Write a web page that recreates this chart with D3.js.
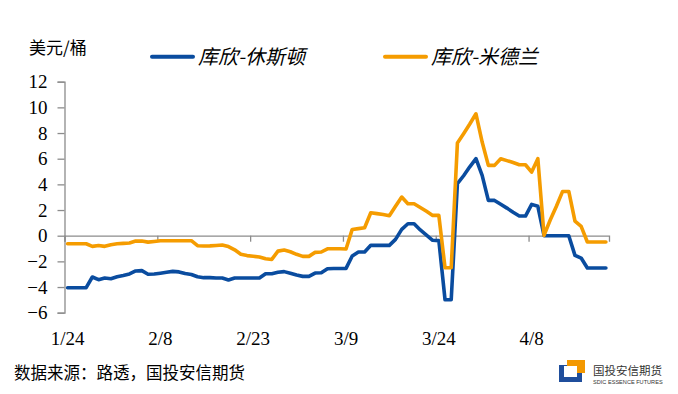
<!DOCTYPE html>
<html>
<head>
<meta charset="utf-8">
<script src="https://cdn.jsdelivr.net/npm/d3@7"></script>
<style>
  html, body { margin: 0; padding: 0; background: #fff; }
  #svg-wrapper { width: 678px; height: 394px; }
  .num { font-family: "Liberation Serif", "Times New Roman", serif; font-size: 19px; }
</style>
</head>
<body>
<div id="svg-wrapper"></div>
<script>
// daily values (weekends carried), 2020-01-24 .. 2020-04-20
const startDate = new Date(2020, 0, 24);
const seriesNames = ["库欣-休斯顿", "库欣-米德兰"];
const seriesColors = ["#0a4c9f", "#f59c00"];

const houston = [
  -4.05, -4.05, -4.05, -4.05, -3.22, -3.43, -3.3, -3.35, -3.2, -3.1,
  -2.98, -2.75, -2.72, -3.0, -2.98, -2.92, -2.85, -2.78, -2.82, -2.95,
  -3.02, -3.2, -3.27, -3.27, -3.3, -3.3, -3.45, -3.3, -3.3, -3.3,
  -3.3, -3.3, -2.96, -2.96, -2.85, -2.8, -2.93, -3.07, -3.17, -3.17,
  -2.91, -2.89, -2.57, -2.55, -2.55, -2.55, -1.58, -1.27, -1.27, -0.75,
  -0.75, -0.75, -0.75, -0.29, 0.49, 0.93, 0.93, 0.45, 0.05, -0.36,
  -0.38, -4.99, -4.99, 4.05, 4.67, 5.37, 6.0, 4.7, 2.75, 2.75,
  2.45, 2.15, 1.83, 1.53, 1.53, 2.44, 2.29, 0.0, 0.0, 0.0,
  0.0, 0.0, -1.53, -1.74, -2.52, -2.52, -2.52, -2.52,
];

const midland = [
  -0.63, -0.63, -0.63, -0.63, -0.83, -0.76, -0.83, -0.7, -0.63, -0.6,
  -0.57, -0.42, -0.42, -0.5, -0.45, -0.39, -0.39, -0.39, -0.39, -0.39,
  -0.39, -0.78, -0.8, -0.79, -0.76, -0.72, -0.85, -1.1, -1.45, -1.55,
  -1.6, -1.66, -1.8, -1.85, -1.2, -1.12, -1.25, -1.45, -1.61, -1.61,
  -1.3, -1.27, -1.02, -1.02, -1.02, -1.04, 0.49, 0.55, 0.62, 1.79,
  1.72, 1.65, 1.56, 2.3, 3.01, 2.49, 2.49, 2.2, 1.9, 1.58,
  1.58, -2.5, -2.5, 7.22, 7.95, 8.7, 9.5, 7.3, 5.48, 5.48,
  6.0, 5.85, 5.7, 5.53, 5.53, 4.96, 6.0, 0.02, 1.22, 2.3,
  3.45, 3.45, 1.14, 0.73, -0.49, -0.49, -0.49, -0.49,
];

const yTicks = [-6, -4, -2, 0, 2, 4, 6, 8, 10, 12];
const xTickLabels = ["1/24", "2/8", "2/23", "3/9", "3/24", "4/8"];

const dayMs = 24 * 3600 * 1000;
const dayOf = (i) => new Date(startDate.getTime() + i * dayMs);
const midDay = (d) => new Date(d.getTime() + dayMs / 2);

//     build data rows
const data = houston.map((v, i) => ({ date: dayOf(i), houston: v, midland: midland[i] }));

//     add svg to wrapper
const svgWidth = 678;
const svgHeight = 394;
const svg = d3.select("#svg-wrapper").append("svg")
  .attr("id", "chart")
  .attr("width", svgWidth)
  .attr("height", svgHeight)
  .attr("font-family", "'Noto Sans CJK SC', sans-serif");

//     scales
const xScale = d3.scaleTime()
  .domain([startDate, dayOf(88)])
  .range([64.5, 609]);
const yScale = d3.scaleLinear()
  .domain([-6, 12])
  .range([312.7, 81.7]);

const axisColor = "#8c8c8c";

//     y axis
const yAxis = d3.axisLeft(yScale).tickValues(yTicks).tickSize(7).tickPadding(10);
const gy = svg.append("g")
  .attr("transform", "translate(64.5,0)")
  .call(yAxis)
  .attr("font-family", null)
  .attr("font-size", null);
gy.select(".domain").attr("stroke", axisColor).attr("stroke-width", 1.3);
gy.selectAll(".tick line").attr("stroke", axisColor).attr("stroke-width", 1.3);
gy.selectAll(".tick text").attr("class", "num").attr("fill", "#000");

//     x axis at zero line, labels at the bottom
const tickDates = xTickLabels.map((d, i) => dayOf(i * 15));
const xAxis = d3.axisBottom(xScale).tickValues(tickDates).tickSize(6).tickFormat("");
const gx = svg.append("g").attr("transform", `translate(0,${yScale(0)})`).call(xAxis);
gx.select(".domain").attr("stroke", axisColor).attr("stroke-width", 1.3);
gx.selectAll(".tick line").attr("stroke", axisColor).attr("stroke-width", 1.3);

svg.append("g")
  .selectAll("text")
  .data(xTickLabels)
  .enter()
  .append("text")
  .attr("class", "num")
  .attr("x", (d, i) => xScale(midDay(tickDates[i])))
  .attr("y", 344.5)
  .attr("text-anchor", "middle")
  .text((d) => d);

//     lines
const keys = ["houston", "midland"];
keys.forEach((k, i) => {
  const line = d3.line()
    .x((d) => xScale(midDay(d.date)))
    .y((d) => yScale(d[k]));
  svg.append("path")
    .datum(data)
    .attr("fill", "none")
    .attr("stroke", seriesColors[i])
    .attr("stroke-width", 3.6)
    .attr("stroke-linejoin", "round")
    .attr("stroke-linecap", "round")
    .attr("d", line);
});

//     unit label
svg.append("text")
  .attr("x", 29)
  .attr("y", 54)
  .style("font-size", "17px")
  .text("美元/桶");

//     legend
const legendX = [152, 385];
seriesNames.forEach((name, i) => {
  svg.append("line")
    .attr("x1", legendX[i])
    .attr("x2", legendX[i] + 41)
    .attr("y1", 56.7)
    .attr("y2", 56.7)
    .attr("stroke", seriesColors[i])
    .attr("stroke-width", 4)
    .attr("stroke-linecap", "round");
  svg.append("text")
    .attr("x", legendX[i] + 46)
    .attr("y", 63.5)
    .style("font-size", "20px")
    .style("font-style", "italic")
    .text(name);
});

//     source
svg.append("text")
  .attr("x", 14)
  .attr("y", 379)
  .style("font-size", "16.5px")
  .text("数据来源：路透，国投安信期货");

//     logo
const logo = svg.append("g");
logo.append("rect").attr("x", 559).attr("y", 365).attr("width", 23).attr("height", 17).attr("fill", "#1f4e9c");
logo.append("rect").attr("x", 567).attr("y", 360).attr("width", 18).attr("height", 13).attr("fill", "#f39800");
logo.append("rect").attr("x", 564).attr("y", 366).attr("width", 13).attr("height", 11).attr("fill", "#fff");
logo.append("text")
  .attr("x", 593)
  .attr("y", 374.5)
  .style("font-size", "11.5px")
  .attr("fill", "#333")
  .text("国投安信期货");
logo.append("text")
  .attr("x", 593)
  .attr("y", 384)
  .style("font-size", "5.6px")
  .style("font-family", "'Liberation Sans', sans-serif")
  .attr("fill", "#333")
  .text("SDIC ESSENCE FUTURES");
</script>
</body>
</html>
